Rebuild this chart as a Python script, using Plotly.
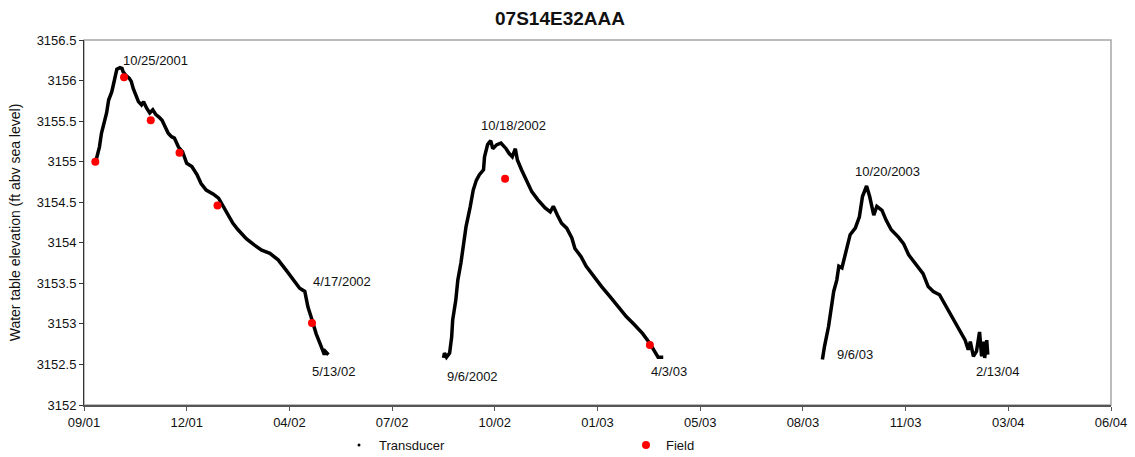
import plotly.graph_objects as go

# ---------------- data ----------------
s1_dates = ["2001-09-30", "2001-10-03", "2001-10-05", "2001-10-07", "2001-10-10", "2001-10-12",
            "2001-10-15", "2001-10-17", "2001-10-19", "2001-10-20", "2001-10-23", "2001-10-25",
            "2001-10-26", "2001-10-29", "2001-11-01", "2001-11-03", "2001-11-05", "2001-11-07",
            "2001-11-10", "2001-11-13", "2001-11-15", "2001-11-18", "2001-11-21", "2001-11-24",
            "2001-11-27", "2001-11-30", "2001-12-03", "2001-12-06", "2001-12-09", "2001-12-12",
            "2001-12-15", "2001-12-19", "2001-12-23", "2001-12-27", "2002-01-01", "2002-01-06",
            "2002-01-10", "2002-01-15", "2002-01-22", "2002-01-27", "2002-02-04", "2002-02-10",
            "2002-02-15", "2002-02-23", "2002-03-03", "2002-03-10", "2002-03-18", "2002-03-26",
            "2002-04-03", "2002-04-11", "2002-04-16", "2002-04-21", "2002-04-24", "2002-04-28",
            "2002-05-02", "2002-05-07", "2002-05-10", "2002-05-11", "2002-05-14"]
s1_values = [3155.03, 3155.18, 3155.35, 3155.45, 3155.60, 3155.76,
             3155.86, 3155.97, 3156.07, 3156.14, 3156.16, 3156.15,
             3156.11, 3156.06, 3156.03, 3155.99, 3155.90, 3155.84,
             3155.74, 3155.70, 3155.74, 3155.66, 3155.60, 3155.64,
             3155.58, 3155.55, 3155.51, 3155.43, 3155.35, 3155.31,
             3155.29, 3155.18, 3155.12, 3154.98, 3154.94, 3154.84,
             3154.73, 3154.65, 3154.60, 3154.55, 3154.38, 3154.24,
             3154.16, 3154.05, 3153.97, 3153.91, 3153.87, 3153.79,
             3153.66, 3153.52, 3153.44, 3153.40, 3153.21, 3153.05,
             3152.88, 3152.72, 3152.62, 3152.66, 3152.62]

s2_dates = ["2002-09-03", "2002-09-04", "2002-09-06", "2002-09-09", "2002-09-11", "2002-09-12",
            "2002-09-15", "2002-09-17", "2002-09-20", "2002-09-22", "2002-09-25", "2002-09-29",
            "2002-10-02", "2002-10-05", "2002-10-08", "2002-10-12", "2002-10-13", "2002-10-16",
            "2002-10-19", "2002-10-21", "2002-10-25", "2002-10-29", "2002-11-03", "2002-11-06",
            "2002-11-09", "2002-11-12", "2002-11-14", "2002-11-18", "2002-11-23", "2002-11-28",
            "2002-12-04", "2002-12-11", "2002-12-16", "2002-12-19", "2002-12-23", "2002-12-27",
            "2003-01-01", "2003-01-06", "2003-01-09", "2003-01-15", "2003-01-20", "2003-01-27",
            "2003-02-04", "2003-02-12", "2003-02-20", "2003-02-28", "2003-03-08", "2003-03-16",
            "2003-03-23", "2003-03-28", "2003-03-31", "2003-04-05"]
s2_values = [3152.58, 3152.64, 3152.59, 3152.64, 3152.84, 3153.05,
             3153.29, 3153.54, 3153.75, 3153.95, 3154.20, 3154.44,
             3154.65, 3154.77, 3154.84, 3154.90, 3155.06, 3155.21,
             3155.26, 3155.16, 3155.21, 3155.23, 3155.16, 3155.10,
             3155.06, 3155.16, 3155.02, 3154.90, 3154.77, 3154.63,
             3154.53, 3154.43, 3154.38, 3154.45, 3154.34, 3154.24,
             3154.18, 3154.06, 3153.93, 3153.83, 3153.71, 3153.59,
             3153.46, 3153.34, 3153.21, 3153.09, 3152.99, 3152.88,
             3152.76, 3152.66, 3152.59, 3152.59]

s3_dates = ["2003-09-07", "2003-09-09", "2003-09-13", "2003-09-16", "2003-09-18", "2003-09-21",
            "2003-09-23", "2003-09-26", "2003-09-28", "2003-10-01", "2003-10-04", "2003-10-09",
            "2003-10-13", "2003-10-16", "2003-10-20", "2003-10-23", "2003-10-27", "2003-10-30",
            "2003-11-04", "2003-11-08", "2003-11-13", "2003-11-20", "2003-11-25", "2003-11-30",
            "2003-12-06", "2003-12-14", "2003-12-19", "2003-12-24", "2003-12-30", "2004-01-04",
            "2004-01-09", "2004-01-14", "2004-01-19", "2004-01-24", "2004-01-27", "2004-01-29",
            "2004-02-01", "2004-02-04", "2004-02-07", "2004-02-09", "2004-02-11", "2004-02-12",
            "2004-02-14", "2004-02-15"]
s3_values = [3152.56, 3152.72, 3152.97, 3153.25, 3153.40, 3153.54,
             3153.71, 3153.69, 3153.79, 3153.97, 3154.10, 3154.18,
             3154.32, 3154.57, 3154.70, 3154.57, 3154.34, 3154.45,
             3154.40, 3154.28, 3154.16, 3154.07, 3153.99, 3153.85,
             3153.75, 3153.62, 3153.46, 3153.40, 3153.36, 3153.25,
             3153.13, 3153.01, 3152.90, 3152.80, 3152.68, 3152.78,
             3152.60, 3152.66, 3152.90, 3152.60, 3152.78, 3152.58,
             3152.80, 3152.62]

field_dates = ["2001-09-29", "2001-10-27", "2001-11-22", "2001-12-20", "2002-01-26",
               "2002-04-28", "2002-11-02", "2003-03-23"]
field_values = [3155.00, 3156.04, 3155.51, 3155.11, 3154.46, 3153.01, 3154.79, 3152.74]

label_texts = ["10/25/2001", "4/17/2002", "5/13/02", "9/6/2002", "10/18/2002",
               "4/3/03", "10/20/2003", "9/6/03", "2/13/04"]
label_dates = ["2001-11-27", "2002-05-27", "2002-05-19", "2002-10-01", "2002-11-10",
               "2003-04-11", "2003-11-09", "2003-10-09", "2004-02-24"]
label_values = [3156.25, 3153.52, 3152.41, 3152.35, 3155.44,
                3152.41, 3154.88, 3152.62, 3152.41]

x_start = "2001-09-18"
x_end = "2004-06-14"
tick_step_days = 100
y_ticks = [3152, 3152.5, 3153, 3153.5, 3154, 3154.5, 3155, 3155.5, 3156, 3156.5]

FONT = "Liberation Sans, Arial, sans-serif"

# ---------------- figure ----------------
fig = go.Figure()

for d, v in [(s1_dates, s1_values), (s2_dates, s2_values), (s3_dates, s3_values)]:
    fig.add_trace(go.Scatter(
        x=d, y=v, mode="lines", line=dict(color="black", width=3.5),
        name="Transducer", legendgroup="t", showlegend=False, hoverinfo="x+y"))

# legend entry for the transducer series (small dot marker, as in the original)
fig.add_trace(go.Scatter(
    x=[None], y=[None], mode="markers", marker=dict(color="black", size=3),
    name="Transducer", legendgroup="t", showlegend=True))

fig.add_trace(go.Scatter(
    x=field_dates, y=field_values, mode="markers",
    marker=dict(color="#FF0000", size=8), name="Field"))

for t, d, v in zip(label_texts, label_dates, label_values):
    fig.add_annotation(x=d, y=v, text=t, showarrow=False,
                       font=dict(family=FONT, size=13, color="#111111"))

# plot-area border (light grey top/right)
fig.add_shape(type="rect", xref="paper", yref="paper", x0=0, y0=0, x1=1, y1=1,
              line=dict(color="#a6a6a6", width=1.5), layer="below")

fig.update_layout(
    width=1135, height=457,
    margin=dict(l=84, r=24, t=40, b=52, autoexpand=False),
    paper_bgcolor="white", plot_bgcolor="white",
    font=dict(family=FONT, size=13, color="#111111"),
    title=dict(text="<b>07S14E32AAA</b>", x=560 / 1135, xanchor="center",
               y=1 - 18 / 457, yanchor="middle",
               font=dict(family=FONT, size=19, color="#111111")),
    showlegend=True,
    legend=dict(orientation="h", xref="container", yref="container",
                x=339 / 1135, xanchor="left", y=1 - 430 / 457, yanchor="top",
                entrywidth=242, entrywidthmode="pixels", itemwidth=30,
                font=dict(family=FONT, size=13), bgcolor="rgba(0,0,0,0)"),
    xaxis=dict(type="date", range=[x_start, x_end], tick0=x_start,
               dtick=tick_step_days * 86400000, tickformat="%m/%y",
               showgrid=False, zeroline=False, showline=True, linecolor="#555555",
               linewidth=2, ticks="outside", ticklen=4, tickcolor="#555555",
               tickfont=dict(family=FONT, size=13)),
    yaxis=dict(range=[3152, 3156.5], tickvals=y_ticks,
               ticktext=[f"{v:g}" for v in y_ticks],
               showgrid=False, zeroline=False, showline=True, linecolor="#333333",
               linewidth=1, ticks="outside", ticklen=4, tickcolor="#333333",
               tickfont=dict(family=FONT, size=13),
               title=dict(text="Water table elevation (ft abv sea level)",
                          font=dict(family=FONT, size=14), standoff=12)),
)

fig.write_html("out.html")
